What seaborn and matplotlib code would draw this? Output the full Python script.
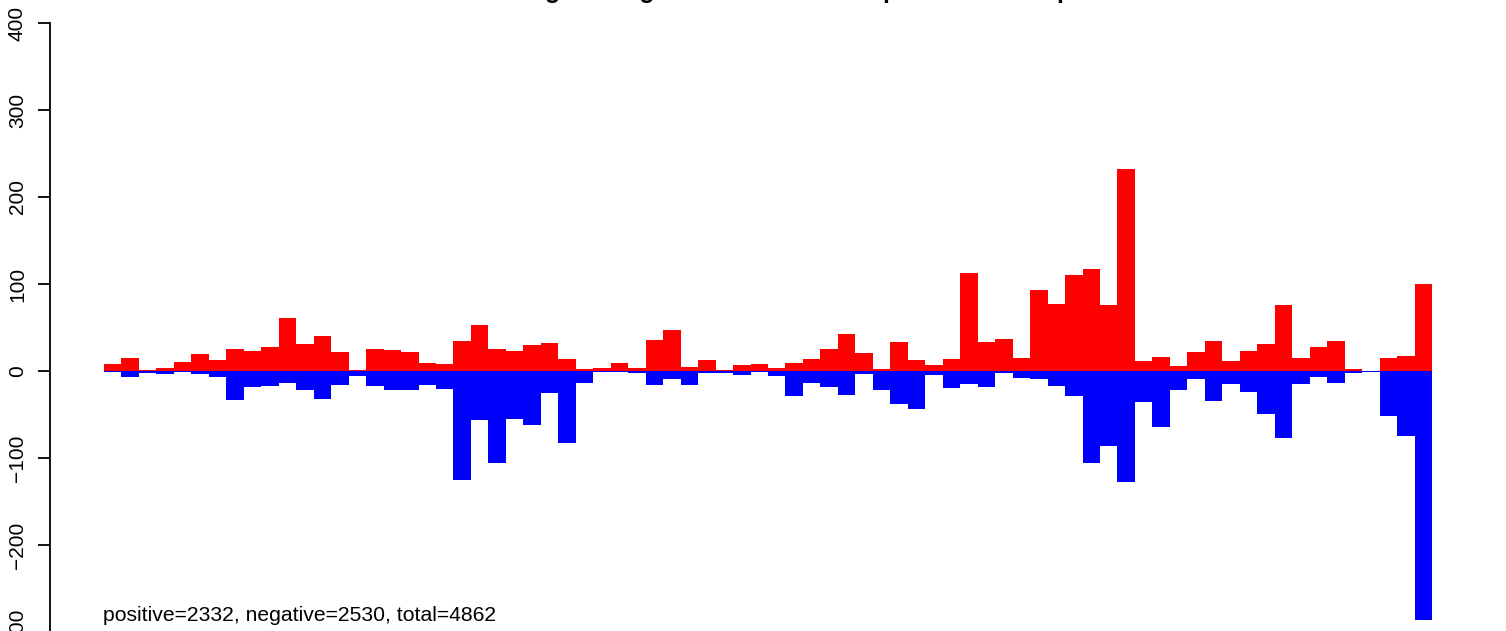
"""
Up / down counts per bin, drawn as mirrored bars (red above zero, blue below).
"""

import numpy as np
import pandas as pd
import matplotlib
matplotlib.use("Agg")
import matplotlib.pyplot as plt
import seaborn as sns

# ── Data (76 bins) ────────────────────────────────────────────────────────
bins = list(range(76))

up_counts = [8, 15, 1, 3, 10, 19, 13, 25, 23, 28, 61, 31, 40, 22, 1, 25, 24, 22, 9, 8,
             34, 53, 25, 23, 30, 32, 14, 2, 3, 9, 3, 36, 47, 5, 13, 1, 7, 8, 3, 9,
             14, 25, 42, 21, 2, 33, 13, 7, 14, 113, 33, 37, 15, 93, 77, 110, 117, 76, 232, 12,
             16, 6, 22, 35, 12, 23, 31, 76, 15, 28, 35, 2, 0, 15, 17, 100]

down_counts = [1, 7, 2, 3, 1, 3, 7, 33, 18, 17, 14, 22, 32, 16, 6, 17, 22, 22, 16, 21,
               125, 56, 106, 55, 62, 25, 83, 14, 1, 1, 2, 16, 9, 16, 2, 2, 5, 1, 6, 29,
               14, 18, 28, 4, 22, 38, 44, 5, 20, 15, 18, 2, 8, 9, 17, 29, 106, 86, 128, 36,
               64, 22, 9, 35, 15, 24, 49, 77, 15, 7, 14, 2, 1, 52, 75, 286]

y_ticks = [-300, -200, -100, 0, 100, 200, 300, 400]

title = "Total log2 change of reads at site: ups and downs per bin"
summary = "positive=2332, negative=2530, total=4862"

# ── Plot ──────────────────────────────────────────────────────────────────
sns.set_style("white")
plt.rcParams["font.family"] = ["Liberation Sans", "DejaVu Sans"]
plt.rcParams.update({
    "text.color": "black",
    "axes.edgecolor": "black",
    "ytick.color": "black",
    "ytick.labelcolor": "black",
})

df = pd.DataFrame({"bin": bins, "up": up_counts,
                   "down": [-v for v in down_counts]})

fig = plt.figure(figsize=(15.06, 6.31), dpi=100)
# plot region placed by pixels: y=400 at 23px from top, y=-300 just below the edge
ax = fig.add_axes([50 / 1506, -1 / 631, 1440 / 1506, 609 / 631])

sns.barplot(data=df, x="bin", y="up", color="#ff0000", saturation=1,
            width=1, linewidth=0, errorbar=None, ax=ax)
sns.barplot(data=df, x="bin", y="down", color="#0000ff", saturation=1,
            width=1, linewidth=0, errorbar=None, ax=ax)

bar_px = 17.474
first_center = 104 + bar_px / 2
ax.set_xlim((50 - first_center) / bar_px, (1490 - first_center) / bar_px)
ax.set_ylim(-300, 400)

ax.set_yticks(y_ticks)
ax.set_yticklabels([str(t).replace("-", "\u2212") for t in y_ticks])
ax.tick_params(axis="y", labelsize=15, length=8.6, width=1.3, pad=8,
               direction="out", left=True, labelrotation=90, colors="black")
for lab in ax.get_yticklabels():
    lab.set_va("center")
ax.set_xticks([])
ax.set_xlabel("")
ax.set_ylabel("")

for side in ["top", "right", "bottom"]:
    ax.spines[side].set_visible(False)
ax.spines["left"].set_linewidth(1.3)
ax.spines["left"].set_color("black")
ax.spines["left"].set_bounds(-300, 400)

ax.text(-0.57, -287, summary, fontsize=15.25, color="black",
        ha="left", va="baseline")

# title sits mostly above the canvas, as in the reference
fig.text(0.531, 1.003, title, fontsize=18, fontweight="bold", color="black",
         ha="center", va="baseline")

fig.savefig("out.png", dpi=100)
plt.close(fig)
